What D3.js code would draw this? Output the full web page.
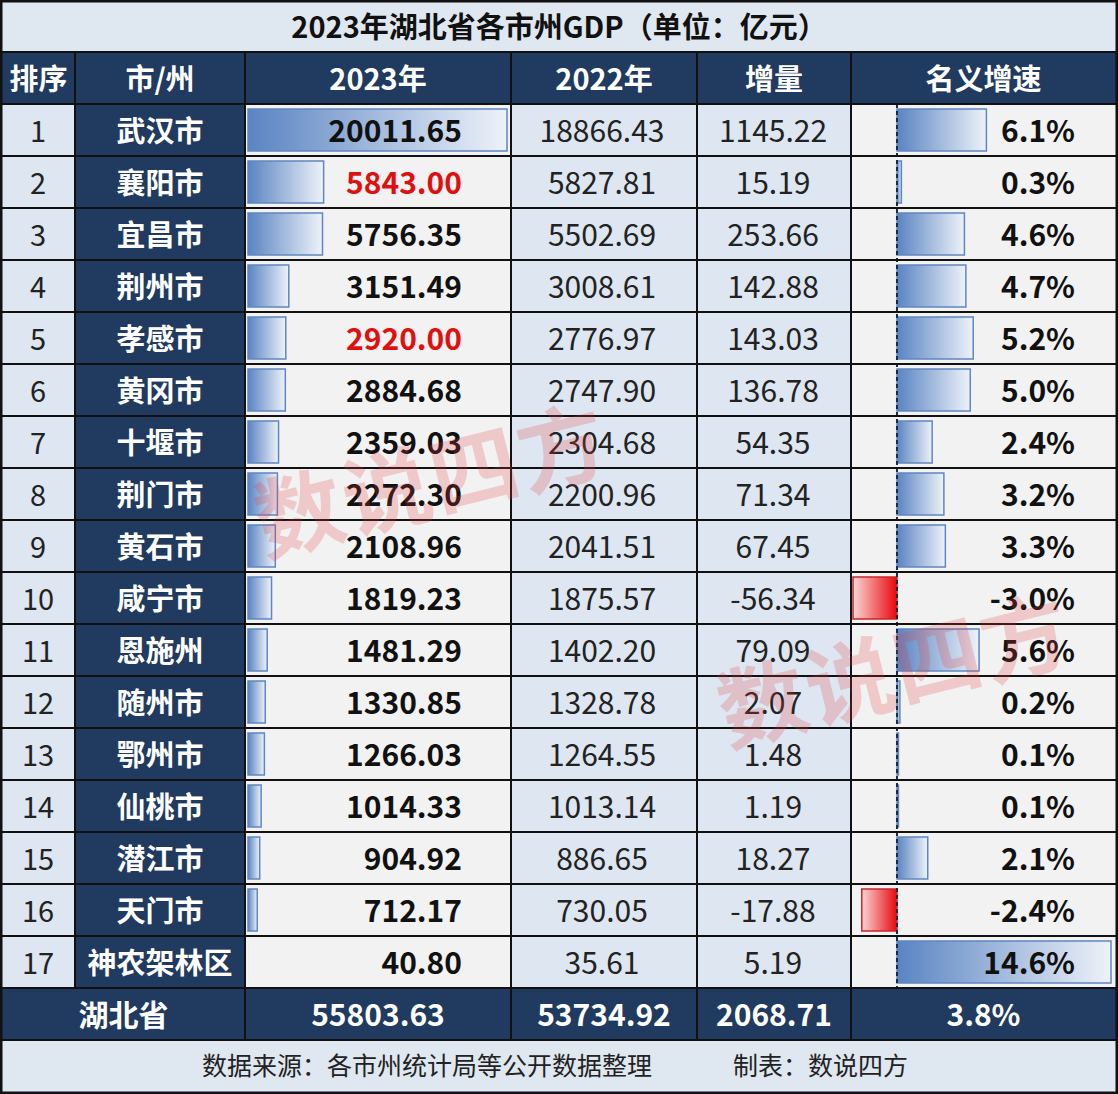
<!DOCTYPE html>
<html>
<head>
<meta charset="utf-8">
<script src="https://cdn.jsdelivr.net/npm/d3@7"></script>
<style>
  body { margin: 0; background: #fff; }
  svg text { font-family: "Noto Sans CJK SC", "Noto Sans", sans-serif; }
</style>
</head>
<body>
<svg id="chart"></svg>
<script>
// Data
const ranks = [1, 2, 3, 4, 5, 6, 7, 8, 9, 10, 11, 12, 13, 14, 15, 16, 17];
const cities = ["武汉市", "襄阳市", "宜昌市", "荆州市", "孝感市", "黄冈市", "十堰市", "荆门市", "黄石市",
  "咸宁市", "恩施州", "随州市", "鄂州市", "仙桃市", "潜江市", "天门市", "神农架林区"];
const gdp2023 = [20011.65, 5843.00, 5756.35, 3151.49, 2920.00, 2884.68, 2359.03, 2272.30, 2108.96,
  1819.23, 1481.29, 1330.85, 1266.03, 1014.33, 904.92, 712.17, 40.80];
const gdp2022 = [18866.43, 5827.81, 5502.69, 3008.61, 2776.97, 2747.90, 2304.68, 2200.96, 2041.51,
  1875.57, 1402.20, 1328.78, 1264.55, 1013.14, 886.65, 730.05, 35.61];
const increase = [1145.22, 15.19, 253.66, 142.88, 143.03, 136.78, 54.35, 71.34, 67.45,
  -56.34, 79.09, 2.07, 1.48, 1.19, 18.27, -17.88, 5.19];
const growth = [6.1, 0.3, 4.6, 4.7, 5.2, 5.0, 2.4, 3.2, 3.3, -3.0, 5.6, 0.2, 0.1, 0.1, 2.1, -2.4, 14.6];
const estimated = ["襄阳市", "孝感市"]; // shown in red
const headers = ["排序", "市/州", "2023年", "2022年", "增量", "名义增速"];
const total = { name: "湖北省", gdp2023: "55803.63", gdp2022: "53734.92", increase: "2068.71", growth: "3.8%" };
const title = "2023年湖北省各市州GDP（单位：亿元）";
const footer = "数据来源：各市州统计局等公开数据整理";
const footer2 = "制表：数说四方";

const W = 1118, H = 1094;
const navy = "#203a60";
const light = "#dde6f1";
const pale = "#f2f2f2";
const colX = [2, 75, 245, 511, 697, 851, 1116];
const rowH = 52;
const bodyTop = 104;

const svg = d3.select("#chart").attr("width", W).attr("height", H);
const defs = svg.append("defs");

const blue = defs.append("linearGradient").attr("id", "blueGrad");
blue.append("stop").attr("offset", "0%").attr("stop-color", "#5a84c2");
blue.append("stop").attr("offset", "100%").attr("stop-color", "#eef2f9");
const red = defs.append("linearGradient").attr("id", "redGrad");
red.append("stop").attr("offset", "0%").attr("stop-color", "#fbd6d6");
red.append("stop").attr("offset", "100%").attr("stop-color", "#e8080c");

const y = d3.scaleBand().domain(cities).range([bodyTop, bodyTop + rowH * cities.length]);
const xGdp = d3.scaleLinear().domain([0, d3.max(gdp2023)]).range([248, 507]);
const xGrowth = d3.scaleLinear().domain([-3.0, 14.6]).range([853, 1111]);

svg.append("rect").attr("width", W).attr("height", H).attr("fill", "#fff");

// title band
svg.append("rect").attr("x", 0).attr("y", 0).attr("width", W).attr("height", 52).attr("fill", "#dfe7f0");
svg.append("text").attr("x", W / 2).attr("y", 25).attr("text-anchor", "middle")
  .attr("dominant-baseline", "central").attr("font-size", 29).attr("font-weight", 700)
  .attr("fill", "#111").text(title);

// header
svg.append("rect").attr("x", 0).attr("y", 52).attr("width", W).attr("height", 52).attr("fill", navy);
headers.forEach((h, i) => {
  svg.append("text").attr("x", (colX[i] + colX[i + 1]) / 2).attr("y", 77)
    .attr("text-anchor", "middle").attr("dominant-baseline", "central")
    .attr("font-size", 29).attr("font-weight", 700).attr("fill", "#fff").text(h);
});

// body rows
const rows = svg.append("g").selectAll("g").data(cities).join("g")
  .attr("transform", d => `translate(0,${y(d)})`);

const fills = [light, navy, pale, light, light, pale];
fills.forEach((f, i) => {
  rows.append("rect").attr("x", colX[i]).attr("y", 0)
    .attr("width", colX[i + 1] - colX[i]).attr("height", rowH).attr("fill", f);
});

// 2023 data bars
rows.append("rect")
  .attr("x", xGdp(0))
  .attr("y", 5)
  .attr("width", (d, i) => Math.max(0, xGdp(gdp2023[i]) - xGdp(0)))
  .attr("height", rowH - 10)
  .attr("fill", "url(#blueGrad)")
  .attr("stroke", (d, i) => xGdp(gdp2023[i]) - xGdp(0) > 2 ? "#5f86c0" : "none")
  .attr("stroke-width", 1.5);

// growth bars
rows.append("rect")
  .attr("x", (d, i) => Math.min(xGrowth(0), xGrowth(growth[i])))
  .attr("y", 5)
  .attr("width", (d, i) => Math.abs(xGrowth(growth[i]) - xGrowth(0)))
  .attr("height", rowH - 10)
  .attr("fill", (d, i) => growth[i] < 0 ? "url(#redGrad)" : "url(#blueGrad)")
  .attr("stroke", (d, i) => growth[i] < 0 ? "#c8242a" : "#5f86c0")
  .attr("stroke-width", 1.5);

const txt = (sel, x, anchor, size, weight, color, fn) =>
  sel.append("text").attr("x", x).attr("y", rowH / 2 - 1)
    .attr("text-anchor", anchor).attr("dominant-baseline", "central")
    .attr("font-size", size).attr("font-weight", weight).attr("fill", color).text(fn);

txt(rows, 38, "middle", 29, 400, "#222", (d, i) => ranks[i]);
txt(rows, 160, "middle", 29, 700, "#fff", d => d);
txt(rows, 462, "end", 30, 700, "#111", (d, i) => gdp2023[i].toFixed(2))
  .attr("fill", d => estimated.includes(d) ? "#e01010" : "#111");
txt(rows, 602, "middle", 30, 400, "#222", (d, i) => gdp2022[i].toFixed(2));
txt(rows, 773, "middle", 30, 400, "#222", (d, i) => increase[i].toFixed(2));
txt(rows, 1075, "end", 30, 700, "#111", (d, i) => growth[i].toFixed(1) + "%");

// zero axis for growth bars
const yEnd = bodyTop + rowH * cities.length;
svg.append("line").attr("x1", xGrowth(0)).attr("x2", xGrowth(0))
  .attr("y1", bodyTop).attr("y2", yEnd)
  .attr("stroke", "#1a2a40").attr("stroke-width", 2).attr("stroke-dasharray", "4,3");

// total row
const tY = yEnd;
svg.append("rect").attr("x", 0).attr("y", tY).attr("width", W).attr("height", rowH).attr("fill", navy);
const totals = [
  [total.name, (colX[0] + colX[2]) / 2],
  [total.gdp2023, (colX[2] + colX[3]) / 2],
  [total.gdp2022, (colX[3] + colX[4]) / 2],
  [total.increase, (colX[4] + colX[5]) / 2],
  [total.growth, (colX[5] + colX[6]) / 2]
];
totals.forEach(([t, x]) => {
  svg.append("text").attr("x", x).attr("y", tY + rowH / 2 - 1)
    .attr("text-anchor", "middle").attr("dominant-baseline", "central")
    .attr("font-size", 30).attr("font-weight", 700).attr("fill", "#fff").text(t);
});

// footer
const fY = tY + rowH;
svg.append("rect").attr("x", 0).attr("y", fY).attr("width", W).attr("height", H - fY).attr("fill", "#dfe7f0");
svg.append("text").attr("x", 202).attr("y", fY + 24).attr("dominant-baseline", "central")
  .attr("font-size", 25).attr("fill", "#222").text(footer);
svg.append("text").attr("x", 733).attr("y", fY + 24).attr("dominant-baseline", "central")
  .attr("font-size", 25).attr("fill", "#222").text(footer2);

// grid lines
const grid = svg.append("g").attr("stroke", "#111").attr("stroke-width", 2);
const hLines = [52, bodyTop].concat(cities.map(c => y(c) + rowH), [fY]);
hLines.forEach(v => grid.append("line").attr("x1", 0).attr("x2", W).attr("y1", v).attr("y2", v));
colX.slice(1, -1).forEach((v, i) => {
  grid.append("line").attr("x1", v).attr("x2", v).attr("y1", 52)
    .attr("y2", i === 0 ? yEnd : fY);
});
grid.append("rect").attr("x", 1).attr("y", 1).attr("width", W - 2).attr("height", H - 2)
  .attr("fill", "none").attr("stroke-width", 3);

// watermark
[[430, 475], [893, 665]].forEach(([cx, cy]) => {
  svg.append("text").attr("transform", `translate(${cx},${cy}) rotate(-14)`)
    .attr("text-anchor", "middle").attr("dominant-baseline", "central")
    .attr("font-size", 88).attr("font-weight", 700).attr("fill", "#e83a3a").attr("opacity", 0.22)
    .attr("letter-spacing", 2).text("数说四方");
});
</script>
</body>
</html>
